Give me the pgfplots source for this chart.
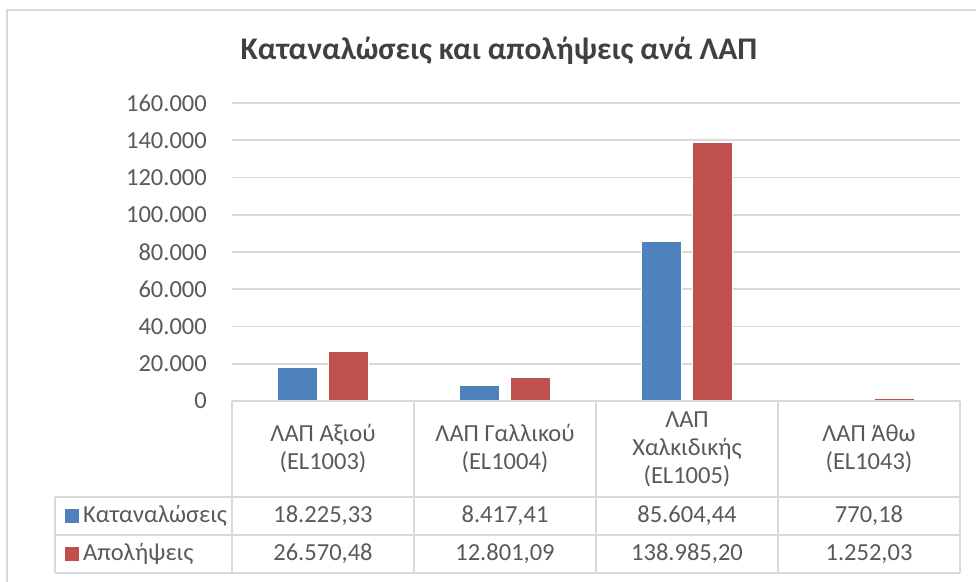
\documentclass[border=0pt]{standalone}
\usepackage{fontspec}
\setmainfont{Carlito}
\usepackage{pgfplots}
\usepackage{pgfplotstable}
\pgfplotsset{compat=1.18}

\definecolor{serA}{HTML}{4F81BD}
\definecolor{serB}{HTML}{C0504D}
\definecolor{gridc}{HTML}{D9D9D9}
\definecolor{txt}{HTML}{595959}

\pgfplotstableread{
x kat apo
0 18225.33 26570.48
1 8417.41 12801.09
2 85604.44 138985.20
3 770.18 1252.03
}\datatable

\newcommand{\cellfont}{\fontsize{24.5}{28}\selectfont}

\begin{document}
\begin{tikzpicture}[x=1pt,y=1pt]
\path[use as bounding box] (0,0) rectangle (976,581);
% chart frame (cropped on right and bottom)
\draw[gridc, line width=1.5pt] (7,-5) -- (7,571) -- (981,571);
\node[font=\fontsize{31.5}{36}\selectfont\bfseries, text=black!75] at (499,530)
  {Καταναλώσεις και απολήψεις ανά ΛΑΠ};

\begin{axis}[
  at={(232pt,180pt)}, anchor=south west,
  scale only axis, width=728pt, height=298pt,
  ybar=11pt, bar width=40pt,
  xmin=-0.5, xmax=3.5, ymin=0, ymax=160000,
  ytick={0,20000,...,160000},
  scaled y ticks=false,
  yticklabel={\pgfmathprintnumber[fixed, precision=0, 1000 sep={.}, assume math mode=true]{\tick}},
  xtick={0,1,2,3},
  xticklabels={{ΛΑΠ Αξιού\\(EL1003)},{ΛΑΠ Γαλλικού\\(EL1004)},{ΛΑΠ\\Χαλκιδικής\\(EL1005)},{ΛΑΠ Άθω\\(EL1043)}},
  ymajorgrids, grid style={gridc, line width=1.6pt},
  axis line style={draw=none},
  major tick length=0pt,
  yticklabel style={font=\cellfont, text=txt, anchor=east, inner sep=0pt, xshift=-25pt},
  xticklabel style={font=\cellfont, text=txt, align=center, anchor=center, inner sep=0pt, yshift=-48pt},
  clip=false,
]
\addplot[fill=serA, draw=white, line width=0.4pt] table[x=x, y=kat] {\datatable};
\addplot[fill=serB, draw=white, line width=0.4pt] table[x=x, y=apo] {\datatable};
\end{axis}

% data table grid
\begin{scope}[gridc, line width=1.6pt]
  \draw (232,180) -- (960,180);
  \draw (55,84) -- (960,84);
  \draw (55,46) -- (960,46);
  \draw (55,8) -- (960,8);
  \draw (55,84) -- (55,8);
  \foreach \xx in {232,414,596,778,960} \draw (\xx,180) -- (\xx,8);
\end{scope}

% legend keys and series names
\fill[serA] (65,58) rectangle (79,72);
\fill[serB] (65,20) rectangle (79,34);
\node[font=\cellfont, text=txt, anchor=west, inner sep=0pt] at (83,65) {Καταναλώσεις};
\node[font=\cellfont, text=txt, anchor=west, inner sep=0pt] at (83,27) {Απολήψεις};

% values in the table
\pgfkeys{/pgf/number format/.cd, fixed, precision=2, fixed zerofill, 1000 sep={.}, dec sep={,}, assume math mode=true}
\foreach \i in {0,...,3} {
  \pgfplotstablegetelem{\i}{kat}\of\datatable
  \node[font=\cellfont, text=txt] at ({323+182*\i},65) {\pgfmathprintnumber{\pgfplotsretval}};
  \pgfplotstablegetelem{\i}{apo}\of\datatable
  \node[font=\cellfont, text=txt] at ({323+182*\i},27) {\pgfmathprintnumber{\pgfplotsretval}};
}
\end{tikzpicture}
\end{document}
